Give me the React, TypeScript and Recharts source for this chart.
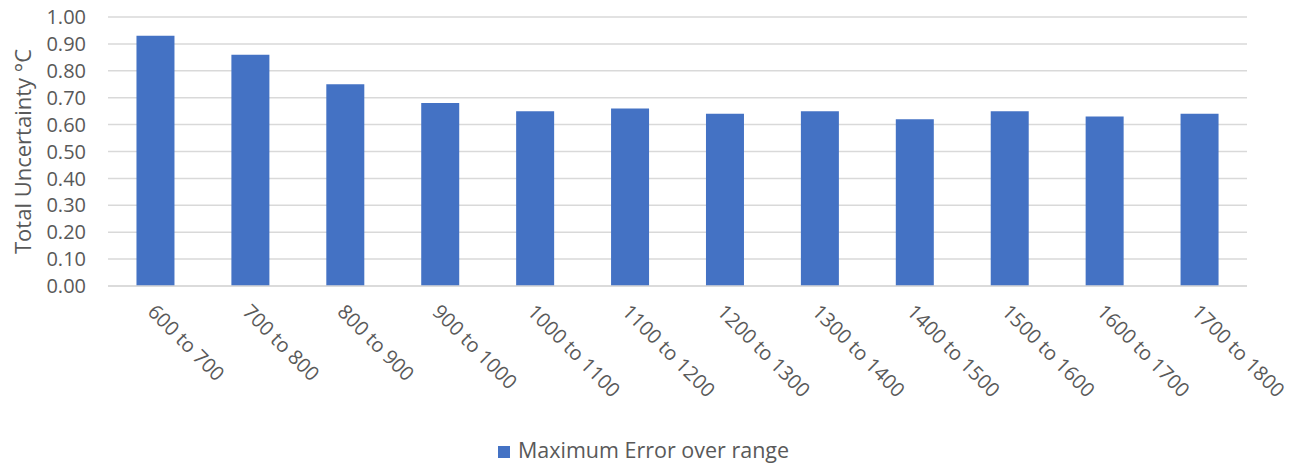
import { BarChart, Bar, XAxis, YAxis, CartesianGrid, Legend } from 'recharts'

const ranges = ['600 to 700', '700 to 800', '800 to 900', '900 to 1000', '1000 to 1100',
  '1100 to 1200', '1200 to 1300', '1300 to 1400', '1400 to 1500', '1500 to 1600',
  '1600 to 1700', '1700 to 1800']
const maxError = [0.93, 0.86, 0.75, 0.68, 0.65, 0.66, 0.64, 0.65, 0.62, 0.65, 0.63, 0.64]
const yTicks = [0, 0.1, 0.2, 0.3, 0.4, 0.5, 0.6, 0.7, 0.8, 0.9, 1.0]

const data = ranges.map((r, i) => ({ range: r, maxError: maxError[i] }))

const FONT = '"Open Sans", sans-serif'
const TXT = '#595959'

function RangeTick({ x, y, payload }: any) {
  return (
    <text x={x - 9} y={y + 19} transform={`rotate(45, ${x - 9}, ${y + 19})`}
      textAnchor='start' fontSize={20} fill={TXT} fontFamily={FONT}>
      {payload.value}
    </text>
  )
}

export default function App() {
  return (
    <div style={{ position:'absolute', left:0, top:0, width:1301, height:464, background:'#fff' }}>
      <BarChart width={1301} height={464} data={data} barCategoryGap='30%'
        margin={{ top:17, right:54, left:0, bottom:0 }}>
        <CartesianGrid vertical={false} stroke='#d9d9d9' strokeWidth={1.5} />
        <XAxis dataKey='range' interval={0} height={149} tickLine={false}
          axisLine={{ stroke:'#d9d9d9', strokeWidth:1.5 }} tick={<RangeTick />} />
        <YAxis domain={[0, 1]} ticks={yTicks} interval={0} width={108} axisLine={false}
          tickLine={false} tickSize={0} tickMargin={22} tickFormatter={(v: number) => v.toFixed(2)}
          tick={{ fontSize:20, fill:TXT, fontFamily:FONT }}
          label={{ value:'Total Uncertainty °C', angle:-90, position:'insideLeft', dx:18,
            style:{ textAnchor:'middle', fontSize:22, fill:TXT, fontFamily:FONT } }} />
        <Legend verticalAlign='bottom' iconType='square' iconSize={12}
          wrapperStyle={{ fontSize:21.5, fontFamily:FONT, color:TXT, left:0, width:1297 }}
          formatter={(v: string) => <span style={{ color:TXT, marginLeft:4 }}>{v}</span>} />
        <Bar dataKey='maxError' name='Maximum Error over range' fill='#4472c4'
          isAnimationActive={false} />
      </BarChart>
    </div>
  )
}
